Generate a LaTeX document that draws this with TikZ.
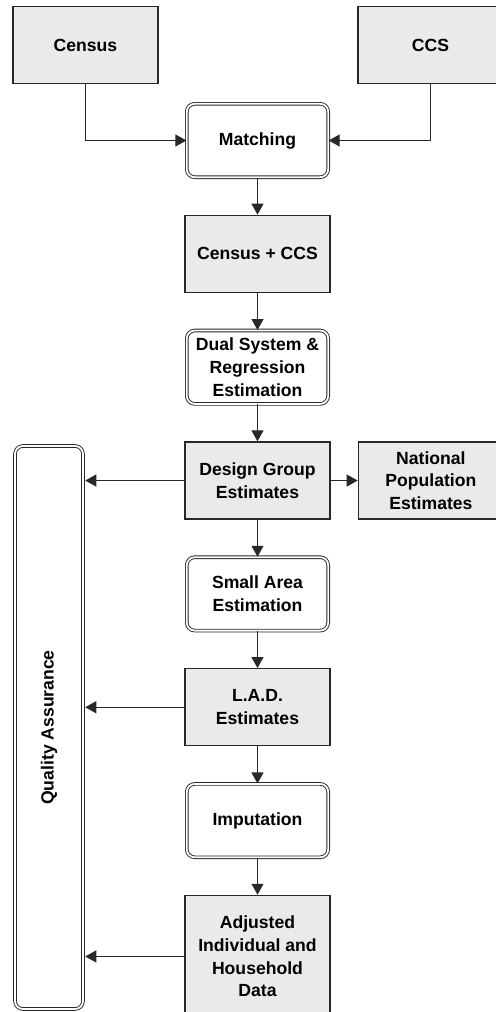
\documentclass[tikz,border=0pt]{standalone}
\usepackage{fontspec}
\setmainfont{Liberation Sans}
\usepackage{tikz}
\usetikzlibrary{positioning, arrows.meta}
\definecolor{CajaGris}{RGB}{234,234,234}
\definecolor{BordeGris}{RGB}{40,40,40}

\begin{document}
\begin{tikzpicture}[font=\fontsize{8.8}{11.3}\selectfont\bfseries, >={Triangle[length=5.5pt, width=6pt]},
  datos/.style={rectangle, draw=BordeGris, line width=0.7pt, fill=CajaGris, minimum width=72.5pt, minimum height=38.5pt, align=center, inner sep=2pt},
  proceso/.style={rectangle, draw=BordeGris, line width=0.45pt, double, double distance=0.9pt, rounded corners=4pt, fill=white, minimum width=70.7pt, minimum height=36.7pt, align=center, inner sep=2pt},
  flecha/.style={->, line width=0.6pt, BordeGris},
  node distance=18.5pt]
  \useasboundingbox (0,0) rectangle (248pt,-506pt);
  % fuentes de datos
  \node[datos] (census) at (42.75pt,-22.5pt) {Census};
  \node[datos] (ccs) at (215.25pt,-22.5pt) {CCS};
  \node[proceso] (matching) at (128.75pt,-70.25pt) {Matching};
  % columna central
  \node[datos, below=of matching] (suma) {Census + CCS};
  \node[proceso, below=of suma] (dse) {Dual System \&\\Regression\\Estimation};
  \node[datos, below=of dse] (design) {Design Group\\Estimates};
  \node[datos, right=13.5pt of design] (nacional) {National\\Population\\Estimates};
  \node[proceso, below=of design] (sae) {Small Area\\Estimation};
  \node[datos, below=of sae] (lad) {L.A.D.\\Estimates};
  \node[proceso, below=of lad] (imput) {Imputation};
  \node[datos, below=of imput, minimum height=61pt] (ajustado) {Adjusted\\Individual and\\Household\\Data};
  % control de calidad
  \node[proceso, rotate=90, minimum width=281.5pt, minimum height=34pt] (qa) at (24.5pt,-363.75pt) {Quality Assurance};
  \draw[flecha] (census) |- (matching);
  \draw[flecha] (ccs) |- (matching);
  \draw[flecha] (matching) -- (suma);
  \draw[flecha] (suma) -- (dse);
  \draw[flecha] (dse) -- (design);
  \draw[flecha] (design) -- (nacional);
  \draw[flecha] (design) -- (sae);
  \draw[flecha] (sae) -- (lad);
  \draw[flecha] (lad) -- (imput);
  \draw[flecha] (imput) -- (ajustado);
  \draw[flecha, shorten >=0.9pt] (design.west) -- (design.west -| qa.south);
  \draw[flecha, shorten >=0.9pt] (lad.west) -- (lad.west -| qa.south);
  \draw[flecha, shorten >=0.9pt] (ajustado.west) -- (ajustado.west -| qa.south);
\end{tikzpicture}
\end{document}
